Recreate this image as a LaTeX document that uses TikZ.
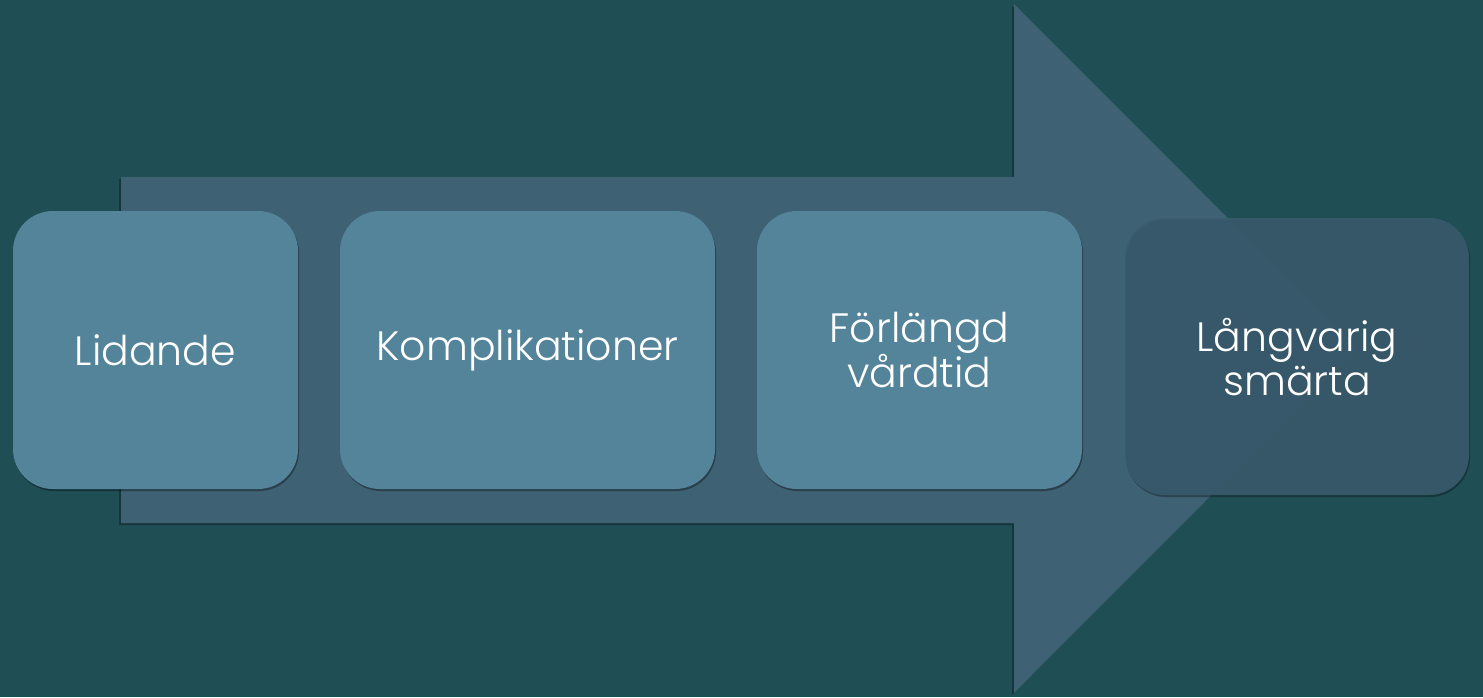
\documentclass[tikz,border=0pt]{standalone}
\usepackage{fontspec}
\setmainfont{Poppins}[UprightFont=* Light]
\usetikzlibrary{shadows}
\definecolor{bgc}{HTML}{1F4F55}
\definecolor{arrowc}{HTML}{3F6174}
\definecolor{boxc}{HTML}{548499}
\definecolor{lastc}{HTML}{395B6D}
\tikzset{
  stepbox/.style={fill=boxc, rounded corners=40pt, inner sep=0pt,
    drop shadow={shadow xshift=1pt, shadow yshift=-2pt, opacity=0.35, fill=black}},
  lbl/.style={text=white, font=\fontsize{41}{44}\selectfont, align=center}
}
\begin{document}
\begin{tikzpicture}[x=1pt,y=-1pt]
\fill[bgc] (0,0) rectangle (1483,697);
\useasboundingbox (0,0) rectangle (1483,697);
% big arrow
\fill[arrowc, drop shadow={shadow xshift=-2pt, shadow yshift=-2pt, opacity=0.3, fill=black}]
  (121,177) -- (1014,177) -- (1014,4) -- (1358,348.5) -- (1014,693) -- (1014,523) -- (121,523) -- cycle;
% boxes
\path[stepbox] (13,211) rectangle (298,489);
\path[stepbox] (340,211) rectangle (715,489);
\path[stepbox] (757,211) rectangle (1082,489);
\path[fill=lastc, fill opacity=0.9, rounded corners=40pt,
  drop shadow={shadow xshift=1pt, shadow yshift=-2pt, opacity=0.3, fill=black}] (1125,218) rectangle (1469,495);
% labels
\node[lbl] (a) at (155.5,350) {Lidande};
\node[lbl] (b) at (527.5,350) {Komplikationer};
\node[lbl] (c) at (919.5,350) {Förlängd\\vårdtid};
\node[lbl] (d) at (1297,357) {Långvarig\\smärta};
\end{tikzpicture}
\end{document}
